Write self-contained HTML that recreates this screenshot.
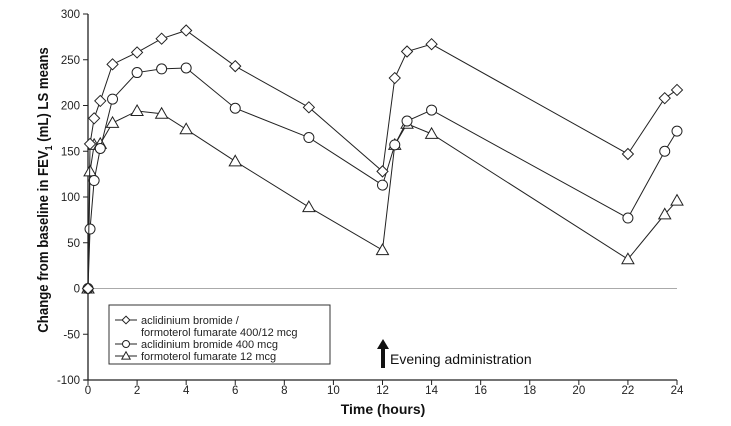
<!DOCTYPE html>
<html><head><meta charset="utf-8"><style>
body{margin:0;background:#fff;width:731px;height:426px;overflow:hidden;font-family:"Liberation Sans",Arial,sans-serif}
svg{display:block}
</style></head><body>
<svg id="chart" width="731" height="426" xmlns="http://www.w3.org/2000/svg">
<g id="axes"></g>
<g id="series"></g>
</svg>
<script>
const hours = [0, 0.083, 0.25, 0.5, 1, 2, 3, 4, 6, 9, 12, 12.5, 13, 14, 22, 23.5, 24];
const comboValues = [0, 158, 186, 205, 245, 258, 273, 282, 243, 198, 128, 230, 259, 267, 147, 208, 217];
const aclidiniumValues = [0, 65, 118, 153, 207, 236, 240, 241, 197, 165, 113, 157, 183, 195, 77, 150, 172];
const formoterolValues = [0, 128, 157, 158, 181, 194, 191, 174, 139, 89, 42, 157, 180, 169, 32, 81, 96];
const xTicks = [0,2,4,6,8,10,12,14,16,18,20,22,24];
const yTicks = [300,250,200,150,100,50,0,-50,-100];

const NS = "http://www.w3.org/2000/svg";
const X0 = 88, X1 = 677, Y0 = 380, Y1 = 14;
const xs = h => X0 + (h / 24) * (X1 - X0);
const ys = v => Y0 - ((v + 100) / 400) * (Y0 - Y1);
function mk(tag, attrs, parent, text){
  const e = document.createElementNS(NS, tag);
  for (const k in attrs) e.setAttribute(k, attrs[k]);
  if (text !== undefined) e.textContent = text;
  parent.appendChild(e); return e;
}
const axes = document.getElementById('axes');
const series = document.getElementById('series');

let zl = mk('line', {x1:X0, x2:X1, y1:ys(0), y2:ys(0), stroke:'#aaa', 'stroke-width':1}, axes);


let ya = mk('line', {x1:X0, x2:X0, y1:Y1, y2:Y0, stroke:'#222', 'stroke-width':1.3}, axes);


let xa = mk('line', {x1:X0-4, x2:X1, y1:Y0, y2:Y0, stroke:'#222', 'stroke-width':1.3}, axes);



yTicks.forEach(v => {
  mk('line', {x1:X0-5, x2:X0, y1:ys(v), y2:ys(v), stroke:'#222'}, axes);
  const t = mk('text', {x:X0-8, y:ys(v)+4, 'font-size':11.5, 'text-anchor':'end', fill:'#222'}, axes, v);
  
  
});
xTicks.forEach(h => {
  mk('line', {x1:xs(h), x2:xs(h), y1:Y0, y2:Y0+5, stroke:'#222'}, axes);
  const t = mk('text', {x:xs(h), y:Y0+14, 'font-size':11.5, 'text-anchor':'middle', fill:'#222'}, axes, h);
  
  
});

let xt = mk('text', {x:383, y:414, 'font-size':14, 'font-weight':'bold', 'text-anchor':'middle', fill:'#111'}, axes, 'Time (hours)');


let yt = mk('text', {transform:'translate(48,190) rotate(-90) scale(0.88,1)', 'font-size':15, 'font-weight':'bold', 'text-anchor':'middle', fill:'#111'}, axes);


yt.innerHTML = 'Change from baseline in FEV<tspan font-size="10" dy="4">1</tspan><tspan dy="-4"> (mL) LS means</tspan>';

function marker(type, cx, cy, parent, s){
  s = s || 1;
  let m;
  if (type === 'diamond') m = mk('polygon', {points:`${cx},${cy-5.5*s} ${cx+5.5*s},${cy} ${cx},${cy+5.5*s} ${cx-5.5*s},${cy}`}, parent);
  else if (type === 'circle') m = mk('circle', {cx:cx, cy:cy, r:5*s}, parent);
  else m = mk('polygon', {points:`${cx},${cy-6*s} ${cx+6*s},${cy+4.5*s} ${cx-6*s},${cy+4.5*s}`}, parent);
  m.setAttribute('fill', '#fff'); m.setAttribute('stroke', '#222'); m.setAttribute('stroke-width', '1');
  return m;
}
function drawSeries(vals, type, name){
  const g = mk('g', {}, series);
  
  
  const pts = hours.map((h,i) => xs(h)+','+ys(vals[i])).join(' ');
  mk('polyline', {points:pts, fill:'none', stroke:'#222', 'stroke-width':1}, g);
  hours.forEach((h,i) => {
    const m = marker(type, xs(h), ys(vals[i]), g);
    
    
  });
}
drawSeries(formoterolValues, 'triangle', 'formoterol-series');
drawSeries(aclidiniumValues, 'circle', 'aclidinium-series');
drawSeries(comboValues, 'diamond', 'combination-series');

const lg = mk('g', {}, axes);


mk('rect', {x:109, y:305, width:221, height:59, fill:'#fff', stroke:'#333', 'stroke-width':1}, lg);
const entries = [['diamond', 320, ['aclidinium bromide /','formoterol fumarate 400/12 mcg']], ['circle', 344, ['aclidinium bromide 400 mcg']], ['triangle', 356, ['formoterol fumarate 12 mcg']]];
entries.forEach(([type, y, lines]) => {
  mk('line', {x1:115, x2:137, y1:y, y2:y, stroke:'#222'}, lg);
  marker(type, 126, y, lg, 0.7);
  lines.forEach((s, k) => {
    const t = mk('text', {x:141, y:y+4+k*12, 'font-size':11, fill:'#222'}, lg, s);
    
    
  });
});

const ar = mk('g', {}, axes);


mk('rect', {x:381, y:348, width:4, height:20, fill:'#111'}, ar);
mk('polygon', {points:'377,349 383,339 389,349', fill:'#111'}, ar);
mk('text', {x:390, y:364, 'font-size':14, fill:'#111'}, ar, 'Evening administration');
</script>
</body></html>
